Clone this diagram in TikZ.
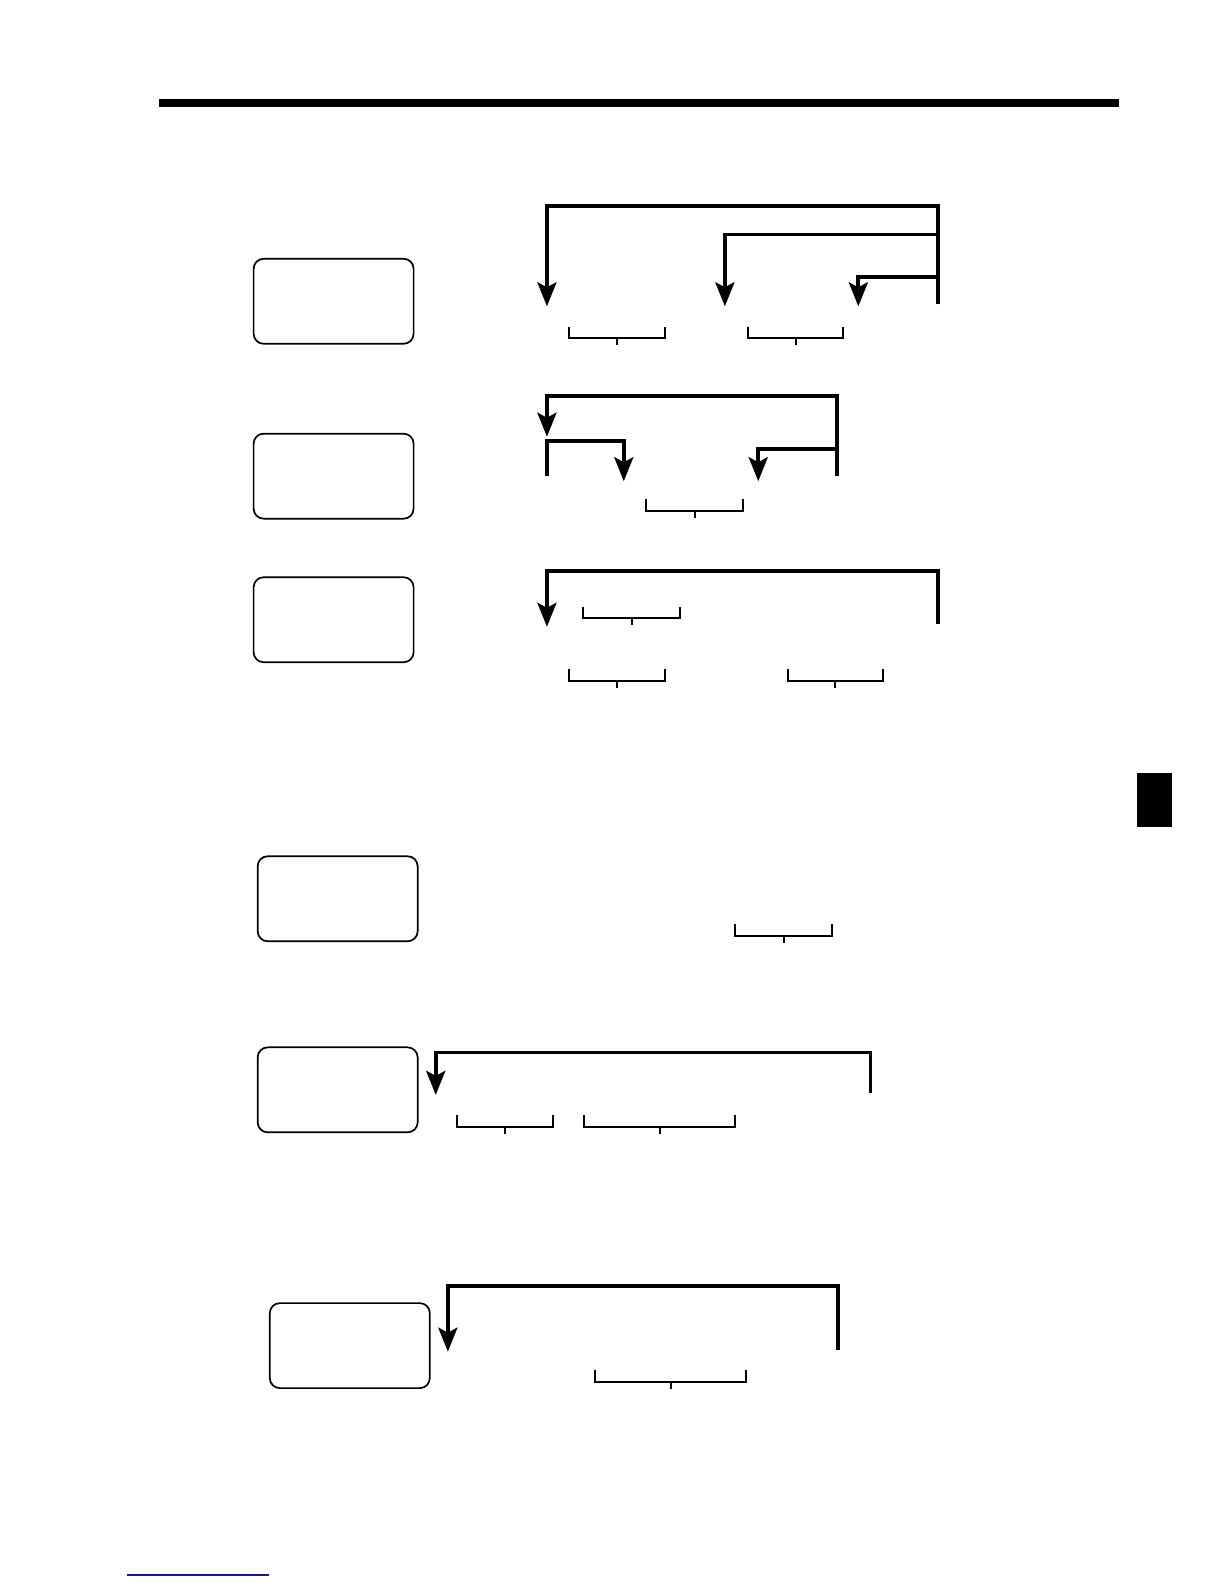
\documentclass[tikz,border=0pt]{standalone}
\usetikzlibrary{arrows.meta}
\definecolor{linkblue}{RGB}{20,20,140}
\begin{document}
\begin{tikzpicture}[x=1.011pt, y=-1.011pt,
  keybox/.style={draw, rectangle, rounded corners=10pt, line width=1.7pt, minimum width=160pt, minimum height=85pt},
  feed/.style={line width=3.8pt, -{Stealth[length=24pt, width=19pt, inset=5pt]}},
  brace/.style={line width=2pt}]
\useasboundingbox (0,0) rectangle (1210.7,1566.8);
\fill (157,98) rectangle (1107,106);
\fill (1125,765) rectangle (1159,818);
\draw[linkblue, line width=1.5pt] (126,1558) -- (266,1558);

\node (key1) [keybox] at (330,298) {};
\node (key2) [keybox] at (330,471) {};
\node (key3) [keybox] at (330,613) {};
\node (key4) [keybox] at (334,889) {};
\node (key5) [keybox] at (334,1078) {};
\node (key6) [keybox] at (346,1331) {};

% first row
\coordinate (railA) at (928,301);
\coordinate (stopA1) at (541,303);
\coordinate (stopA2) at (717,303);
\coordinate (stopA3) at (849,303);
\draw [feed] (railA) -- (928,204) -| (stopA1);
\draw [feed] (928,232) -| (stopA2);
\draw [feed] (928,274) -| (stopA3);

% second row
\coordinate (railB) at (828,471);
\coordinate (stopB1) at (541,432);
\coordinate (startB2) at (541,471);
\coordinate (stopB2) at (617,476);
\coordinate (stopB3) at (750,476);
\draw [feed] (railB) -- (828,392) -| (stopB1);
\draw [feed] (startB2) -- (541,436) -| (stopB2);
\draw [feed] (828,444) -| (stopB3);

% third row
\coordinate (railC) at (928,617);
\coordinate (stopC) at (541,620);
\draw [feed] (railC) -- (928,565) -| (stopC);

% fifth and sixth rows
\coordinate (railE) at (861,1081);
\coordinate (stopE) at (431,1083);
\draw [feed] (railE) -- (861,1041) -| (stopE);
\coordinate (railF) at (829,1335);
\coordinate (stopF) at (443,1337);
\draw [feed] (railF) -- (829,1272) -| (stopF);

% brackets under the keys
\foreach \l/\r/\t in {563/658/323, 740/834/323, 639/735/494, 577/673/600, 563/658/662, 779/873/662, 727/823/914, 452/547/1103, 578/727/1103, 589/738/1355}
  \draw [brace] (\l,\t) -- (\l,\t+11.5) -- (\r,\t+11.5) -- (\r,\t) ({(\l+\r)/2},\t+11.5) -- ++(0,7);
\end{tikzpicture}
\end{document}
